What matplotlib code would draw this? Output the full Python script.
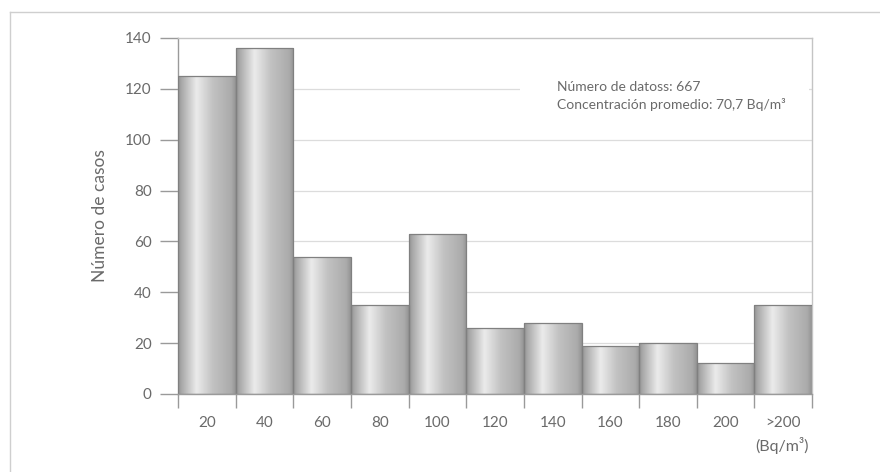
import numpy as np
import matplotlib.pyplot as plt
from matplotlib.lines import Line2D
from matplotlib.patches import Rectangle

# radon concentration histogram
categories = ["20", "40", "60", "80", "100", "120", "140", "160", "180", "200", ">200"]
counts = [125, 136, 54, 35, 63, 26, 28, 19, 20, 12, 35]
y_ticks = [0, 20, 40, 60, 80, 100, 120, 140]
n_data = 667
mean_conc = "70,7"

TXT = "#6a6a6a"
plt.rcParams["font.family"] = ["Lato", "DejaVu Sans"]


def main():
    fig = plt.figure(figsize=(8.8, 4.72), dpi=100)
    ax = fig.add_axes([0.2023, 0.1653, 0.7205, 0.7542])

    # light frame around the whole figure (top and left edges show)
    fig.add_artist(Line2D([0.0114, 1.0], [0.975, 0.975], transform=fig.transFigure,
                          color="#cfcfcf", lw=1.0))
    fig.add_artist(Line2D([0.0114, 0.0114], [0.0, 0.975], transform=fig.transFigure,
                          color="#cfcfcf", lw=1.0))

    x = np.arange(len(counts)) + 0.5

    for v in y_ticks[1:-1]:
        ax.axhline(v, color="#dcdcdc", lw=0.9, zorder=0)

    # white patch behind the annotation text
    ax.add_patch(Rectangle((0.54, 108), 0.455, 25, transform=ax.get_yaxis_transform(),
                           facecolor="white", edgecolor="none", zorder=0.5))

    bars = ax.bar(x, counts, width=1.0, facecolor="none", edgecolor="#808080",
                  linewidth=0.9, zorder=3)

    # cylinder-like shading for each bar
    pos = [0.0, 0.06, 0.32, 0.6, 0.92, 1.0]
    val = [0.58, 0.66, 0.92, 0.76, 0.67, 0.58]
    shade = np.interp(np.linspace(0, 1, 200), pos, val).reshape(1, -1)
    for b in bars:
        x0, w, h = b.get_x(), b.get_width(), b.get_height()
        im = ax.imshow(shade, cmap="gray", vmin=0, vmax=1, aspect="auto",
                       extent=(x0, x0 + w, 0, h), zorder=2, interpolation="bilinear")
        im.set_clip_path(b)
    ax.set_xlim(0, len(counts))
    ax.set_ylim(0, 140)

    for s in ["left", "bottom"]:
        ax.spines[s].set_color("#9a9a9a")
        ax.spines[s].set_linewidth(1.0)
    for s in ["top", "right"]:
        ax.spines[s].set_color("#c4c4c4")
        ax.spines[s].set_linewidth(1.0)
    ax.spines["bottom"].set_zorder(4)

    ax.set_yticks(y_ticks)
    ax.tick_params(axis="y", length=13, width=1.0, color="#9a9a9a", pad=6,
                   labelsize=11, labelcolor=TXT)

    # ticks at bin edges, labels centred on bars
    ax.set_xticks(np.arange(len(counts) + 1))
    ax.set_xticklabels([])
    ax.tick_params(axis="x", length=10, width=1.0, color="#9a9a9a")
    ax.set_xticks(x, minor=True)
    ax.set_xticklabels(categories, minor=True)
    ax.tick_params(axis="x", which="minor", length=0, pad=16, labelsize=11,
                   labelcolor=TXT)

    ax.set_ylabel("Número de casos", fontsize=12.5, color=TXT, labelpad=12)

    ax.text(0.995, -0.12, "(Bq/m³)", transform=ax.transAxes, ha="right", va="top",
            fontsize=11.5, color=TXT)

    ax.text(0.597, 0.862, f"Número de datoss: {n_data}", transform=ax.transAxes,
            ha="left", va="center", fontsize=10, color=TXT)
    ax.text(0.597, 0.812, f"Concentración promedio: {mean_conc} Bq/m³",
            transform=ax.transAxes, ha="left", va="center", fontsize=10, color=TXT)

    fig.savefig("out.png", dpi=100, facecolor="white")


if __name__ == "__main__":
    main()
